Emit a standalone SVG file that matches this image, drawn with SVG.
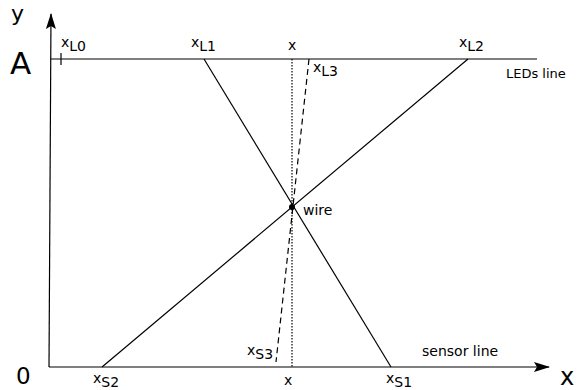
<svg xmlns="http://www.w3.org/2000/svg" width="577" height="390" viewBox="0 0 577 390">
<style>
.ln{stroke:#000;stroke-width:1.2;fill:none}
.t{font-family:"DejaVu Sans",sans-serif;font-size:14px;fill:#000}
.big{font-family:"DejaVu Sans",sans-serif;font-size:23px;fill:#000}
</style>
<defs>
<marker id="ahb" viewBox="0 0 16 10" refX="15" refY="5" markerWidth="16" markerHeight="10" markerUnits="userSpaceOnUse" orient="auto">
<path d="M0,0 L16,5 L0,10 L3,5 Z" fill="#000"/>
</marker>
</defs>
<g id="connectors">
<path class="ln" d="M49,367 L51,14" marker-end="url(#ahb)"/>
<path class="ln" d="M49,367 L549,367" marker-end="url(#ahb)"/>
<path class="ln" d="M51,59 L537,59"/>
<path class="ln" d="M61,53 L61,65"/>
<path class="ln" d="M204,59 L391,367"/>
<path class="ln" d="M468,59 L102,367"/>
<path class="ln" d="M292,59 L292,367" stroke-dasharray="1.5,1.5" stroke-width="1"/>
<path class="ln" d="M309,59 L276,362" stroke-dasharray="6,4" stroke-width="1"/>
</g>
<g id="wire"><circle cx="292" cy="207" r="3" fill="#000"/><text class="t" x="303" y="215">wire</text></g>
<g id="labels">
<text class="big" x="11" y="21" style="font-size:22px">y</text>
<text class="big" x="10" y="74" style="font-size:31px">A</text>
<text class="big" x="16" y="384" style="font-size:23px">0</text>
<text class="big" x="560" y="385" style="font-size:24px">x</text>
<text class="t" x="61" y="47">x<tspan dy="4">L0</tspan></text>
<text class="t" x="191" y="47">x<tspan dy="4">L1</tspan></text>
<text class="t" x="288" y="50">x</text>
<text class="t" x="313" y="72">x<tspan dy="4">L3</tspan></text>
<text class="t" x="459" y="47">x<tspan dy="4">L2</tspan></text>
<text class="t" x="506" y="78" style="font-size:13px">LEDs line</text>
<text class="t" x="247" y="355">x<tspan dy="4">S3</tspan></text>
<text class="t" x="422" y="356">sensor line</text>
<text class="t" x="93" y="383">x<tspan dy="4">S2</tspan></text>
<text class="t" x="284" y="385">x</text>
<text class="t" x="386" y="383">x<tspan dy="4">S1</tspan></text>
</g>
</svg>
